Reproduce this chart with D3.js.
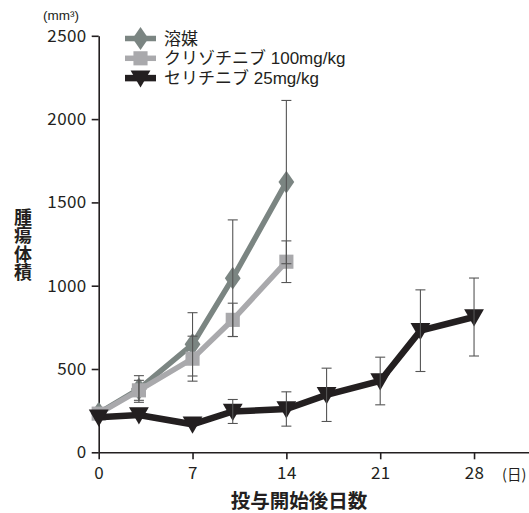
<!DOCTYPE html>
<html><head><meta charset="utf-8">
<script src="https://cdn.jsdelivr.net/npm/d3@7"></script>
<style>body{margin:0;background:#fff}svg{display:block}</style>
</head><body>
<script>
const seriesNames = ["溶媒", "クリゾチニブ 100mg/kg", "セリチニブ 25mg/kg"];
const vehicleDays = [0, 3, 7, 10, 14];
const vehicleMean = [235, 380, 648, 1045, 1622];
const vehicleErr  = [0, 80, 190, 350, 490];
const crizoDays = [0, 3, 7, 10, 14];
const crizoMean = [232, 372, 562, 795, 1144];
const crizoErr  = [0, 60, 135, 100, 125];
const ceriDays = [0, 3, 7, 10, 14, 17, 21, 24, 28];
const ceriMean = [210, 224, 168, 245, 260, 345, 428, 730, 812];
const ceriErr  = [0, 0, 0, 72, 103, 160, 143, 245, 234];
const xTicks = [0, 7, 14, 21, 28];
const yTicks = [0, 500, 1000, 1500, 2000, 2500];

const W = 529, H = 513;
const font = "'Noto Sans CJK JP', 'Noto Sans', sans-serif";
const legendFont = "'Liberation Sans', 'Noto Sans CJK JP', sans-serif";
const svg = d3.select("body").append("svg").attr("width", W).attr("height", H);
const x = d3.scaleLinear().domain([0, 32.1]).range([98.7, 529]);
const y = d3.scaleLinear().domain([0, 2500]).range([452.3, 35.8]);
const ink = "#231f20";

// axes
const yAxis = svg.append("g").attr("transform", `translate(${x(0)},0)`)
  .call(d3.axisLeft(y).tickValues(yTicks).tickFormat(d3.format("d")).tickSize(7).tickSizeOuter(0).tickPadding(5));
const xAxis = svg.append("g").attr("transform", `translate(0,${y(0)})`)
  .call(d3.axisBottom(x).tickValues(xTicks).tickFormat(d3.format("d")).tickSize(7).tickSizeOuter(0).tickPadding(8));
[yAxis, xAxis].forEach(g => {
  g.selectAll("path,line").attr("stroke", ink).attr("stroke-width", 1.6);
  g.selectAll("text").attr("fill", ink).style("font-family", font).style("font-size", "17px").style("letter-spacing", "0.4px");
});

svg.append("text").attr("x", 502).attr("y", 480).attr("fill", ink)
  .style("font-family", font).style("font-size", "14.5px").text("(日)");
svg.append("text").attr("x", 43).attr("y", 20).attr("fill", ink)
  .style("font-family", legendFont).style("font-size", "13.5px").text("(mm³)");
svg.append("text").attr("x", 299).attr("y", 508).attr("text-anchor", "middle").attr("fill", ink)
  .style("font-family", font).style("font-size", "19.5px").style("font-weight", "bold").text("投与開始後日数");
svg.append("text").attr("x", 23).attr("y", 208).attr("fill", ink)
  .style("writing-mode", "tb").style("glyph-orientation-vertical", "0")
  .style("font-family", font).style("font-size", "18px").style("font-weight", "bold").style("letter-spacing", "0.5px")
  .text("腫瘍体積");

const series = [
  {days: vehicleDays, mean: vehicleMean, err: vehicleErr, color: "#7b8582", width: 5.5, sym: d3.symbolDiamond, size: 150},
  {days: crizoDays, mean: crizoMean, err: crizoErr, color: "#a9a9ac", width: 5.5, sym: d3.symbolSquare, size: 200},
  {days: ceriDays, mean: ceriMean, err: ceriErr, color: "#231f20", width: 6.5, sym: d3.symbolTriangle, size: 170, rot: 180}
];
const line = d3.line().x(d => x(d[0])).y(d => y(d[1]));
const errG = svg.append("g");
series.forEach(s => {
  const pts = s.days.map((d, i) => [d, s.mean[i], s.err[i]]);
  svg.append("path").attr("d", line(pts)).attr("fill", "none").attr("stroke", s.color)
    .attr("stroke-width", s.width).attr("stroke-linejoin", "miter");
  svg.selectAll(null).data(pts).enter().append("path")
    .attr("d", d3.symbol().type(s.sym).size(s.size))
    .attr("transform", d => `translate(${x(d[0])},${y(d[1]) + (s.rot ? -2 : 0)}) rotate(${s.rot || 0})${s.sym === d3.symbolDiamond ? " scale(1.2,1)" : ""}`)
    .attr("fill", s.color);
  pts.filter(d => d[2] > 0).forEach(d => {
    const cx = x(d[0]), t = y(d[1] + d[2]), b = y(d[1] - d[2]);
    errG.append("line").attr("x1", cx).attr("x2", cx).attr("y1", t).attr("y2", b);
    errG.append("line").attr("x1", cx - 5).attr("x2", cx + 5).attr("y1", t).attr("y2", t);
    errG.append("line").attr("x1", cx - 5).attr("x2", cx + 5).attr("y1", b).attr("y2", b);
  });
});
errG.raise().selectAll("line").attr("stroke", "#555").attr("stroke-width", 1.1);

// legend
series.forEach((s, i) => {
  const ly = 38.5 + i * 19.8;
  const g = svg.append("g");
  g.append("line").attr("x1", 125).attr("x2", 156).attr("y1", ly).attr("y2", ly)
    .attr("stroke", s.color).attr("stroke-width", s.width);
  g.append("path").attr("d", d3.symbol().type(s.sym).size(s.size))
    .attr("transform", `translate(140.5,${ly + (s.rot ? -2 : 0)}) rotate(${s.rot || 0})${s.sym === d3.symbolDiamond ? " scale(1.2,1)" : ""}`)
    .attr("fill", s.color);
  g.append("text").attr("x", 164).attr("y", ly + 6).attr("fill", ink)
    .style("font-family", legendFont).style("font-size", "17px").text(seriesNames[i]);
});
</script>
</body></html>
